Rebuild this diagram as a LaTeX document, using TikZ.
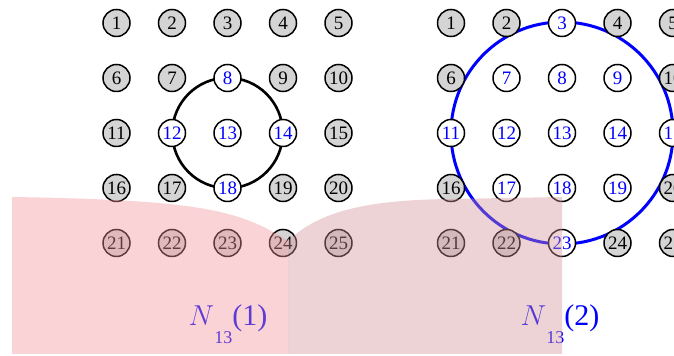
\documentclass[tikz,border=0pt]{standalone}
\usepackage{amsmath}
\usepackage{fontspec}
\setmainfont{Liberation Serif}
\usetikzlibrary{backgrounds}

\definecolor{ballgray}{RGB}{212,212,212}
\definecolor{leftpink}{RGB}{240,145,150}
\definecolor{rightpink}{RGB}{210,145,150}

\tikzset{
    ball/.style={circle, draw=black, line width=0.75pt, inner sep=0pt, minimum size=13.5pt,
        font=\fontsize{9.5}{9.5}\selectfont},
    outball/.style={ball, fill=ballgray, text=black},
    inball/.style={ball, fill=white, text=blue},
    nlabel/.style={anchor=base, text=blue, inner sep=0pt, font=\fontsize{15}{15}\selectfont},
}

\begin{document}
\begin{tikzpicture}[x=0.5pt, y=-0.5pt]
    \useasboundingbox (0,0) rectangle (674,356);

    % left grid, radius 1
    \foreach \r in {0,...,4}
        \foreach \c in {0,...,4} {
            \pgfmathtruncatemacro{\n}{5*\r+\c+1}
            \pgfmathtruncatemacro{\d}{abs(\r-2)+abs(\c-2)}
            \ifnum\d<2 \tikzset{pick/.style={inball}}\else\tikzset{pick/.style={outball}}\fi
            \node[pick] (a\n) at (116.5+55.5*\c, 23+55*\r) {\n};
        }

    % right grid, radius 2
    \foreach \r in {0,...,4}
        \foreach \c in {0,...,4} {
            \pgfmathtruncatemacro{\n}{5*\r+\c+1}
            \pgfmathtruncatemacro{\d}{abs(\r-2)+abs(\c-2)}
            \ifnum\d<3 \tikzset{pick/.style={inball}}\else\tikzset{pick/.style={outball}}\fi
            \node[pick] (b\n) at (451+55.5*\c, 23+55*\r) {\n};
        }

    \begin{scope}[on background layer]
        \draw[black, line width=1.3pt] (a13.center) circle[radius=27.6pt];
        \draw[blue, line width=1.5pt] (b13.center) circle[radius=55.5pt];
    \end{scope}

    \node[nlabel] (lab1) at (228,326) {$N$\raisebox{-9pt}{\fontsize{9}{9}\selectfont 13}(1)};
    \node[nlabel] (lab2) at (560,326) {$N$\raisebox{-9pt}{\fontsize{9}{9}\selectfont 13}(2)};

    % shaded regions
    \fill[leftpink, fill opacity=0.4] (12,197) .. controls (200,200) and (240,210) .. (288,241)
        -- (288,354) -- (12,354) -- cycle;
    \fill[rightpink, fill opacity=0.4] (288,241) .. controls (320,210) and (370,200) .. (450,199)
        -- (562,197) -- (562,354) -- (288,354) -- cycle;
\end{tikzpicture}
\end{document}
